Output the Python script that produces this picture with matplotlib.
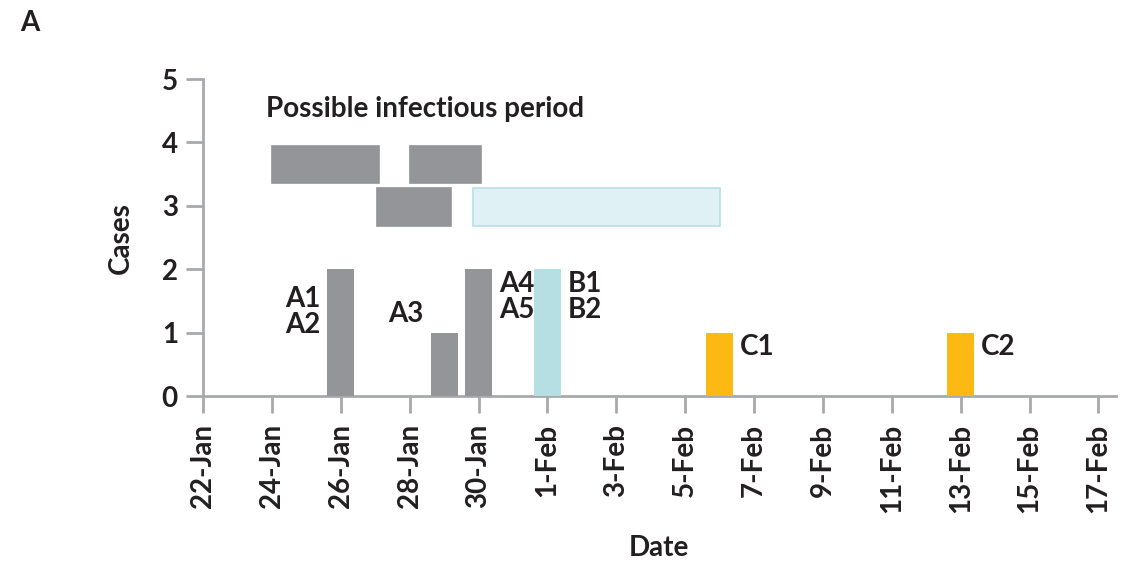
import matplotlib
matplotlib.use("Agg")
import matplotlib.pyplot as plt
import matplotlib.dates as mdates
import pandas as pd

plt.rcParams['font.family'] = ['Lato', 'DejaVu Sans']
plt.rcParams['font.weight'] = 'bold'
plt.rcParams['axes.labelweight'] = 'bold'

# daily case counts
onset_dates = ['2020-01-26', '2020-01-29', '2020-01-30', '2020-02-01', '2020-02-06', '2020-02-13']
case_counts = [2, 1, 2, 2, 1, 1]
case_labels = ['A1\nA2', 'A3', 'A4\nA5', 'B1\nB2', 'C1', 'C2']
case_cluster = ['A', 'A', 'A', 'B', 'C', 'C']

# possible infectious periods (start, end, row)
period_start = ['2020-01-24 00:00', '2020-01-28 00:00', '2020-01-27 01:00', '2020-01-29 20:00']
period_end = ['2020-01-27 02:30', '2020-01-30 01:30', '2020-01-29 05:00', '2020-02-06 00:00']
period_cluster = ['A', 'A', 'A', 'B']
period_row = [0, 0, 1, 1]
row_bottom = [3.36, 2.68]
row_top = [3.94, 3.29]

bar_colors = {'A': '#939598', 'B': '#b5dfe3', 'C': '#fdb913'}
box_face = {'A': '#939598', 'B': '#dff1f4'}
box_edge = {'A': '#939598', 'B': '#b8e0e4'}
axis_gray = '#a7a9ac'
text_color = '#231f20'
fs = 20

fig = plt.figure(figsize=(11.24, 5.65), dpi=100)
ax = fig.add_axes([0.1806, 0.299, 0.812, 0.561])

x = mdates.date2num(pd.to_datetime(onset_dates))
ax.bar(x, case_counts, width=0.78, color=[bar_colors[c] for c in case_cluster], zorder=3)

# label offsets (points) and alignment per case group
label_side = ['left', 'left_above', 'right', 'right', 'right', 'right']
for xi, yi, lab, side in zip(x, case_counts, case_labels, label_side):
    if side == 'left':
        ax.annotate(lab, (xi - 0.39, yi), xytext=(-5, -12), textcoords='offset points',
                    ha='right', va='top', fontsize=fs, color=text_color, linespacing=1.0)
    elif side == 'left_above':
        ax.annotate(lab, (xi - 0.39, yi), xytext=(-5, 4), textcoords='offset points',
                    ha='right', va='bottom', fontsize=fs, color=text_color)
    else:
        ax.annotate(lab, (xi + 0.39, yi), xytext=(5, -1), textcoords='offset points',
                    ha='left', va='top', fontsize=fs, color=text_color, linespacing=1.0)

ps = mdates.date2num(pd.to_datetime(period_start))
pe = mdates.date2num(pd.to_datetime(period_end))
for s, e, cl, r in zip(ps, pe, period_cluster, period_row):
    ax.add_patch(plt.Rectangle((s, row_bottom[r]), e - s, row_top[r] - row_bottom[r],
                               facecolor=box_face[cl], edgecolor=box_edge[cl], linewidth=1.2, zorder=2))

x0 = mdates.date2num(pd.Timestamp('2020-01-22'))
ax.text(mdates.date2num(pd.Timestamp('2020-01-23 20:00')), 4.53, 'Possible infectious period',
        fontsize=fs, color=text_color, va='center', ha='left')

ax.set_xlim(x0, mdates.date2num(pd.Timestamp('2020-02-17 12:00')))
ax.set_ylim(0, 5)
ticks = pd.date_range('2020-01-22', '2020-02-17', freq='2D')
ax.set_xticks(mdates.date2num(ticks))
ax.set_xticklabels([f"{d.day}-{d.strftime('%b')}" for d in ticks], rotation=90)
ax.set_yticks(range(6))

for side in ['top', 'right']:
    ax.spines[side].set_visible(False)
for side in ['left', 'bottom']:
    ax.spines[side].set_color(axis_gray)
    ax.spines[side].set_linewidth(2)
ax.tick_params(axis='both', colors=axis_gray, width=2, length=12, labelcolor=text_color, labelsize=fs)
ax.tick_params(axis='x', pad=8)
ax.tick_params(axis='y', pad=6)

ax.set_xlabel('Date', fontsize=fs, color=text_color, labelpad=16)
ax.set_ylabel('Cases', fontsize=fs, color=text_color, labelpad=20)

fig.text(0.018, 0.96, 'A', fontsize=fs, fontweight='bold', color=text_color, va='center', ha='left')

fig.savefig('out.png', dpi=100)
